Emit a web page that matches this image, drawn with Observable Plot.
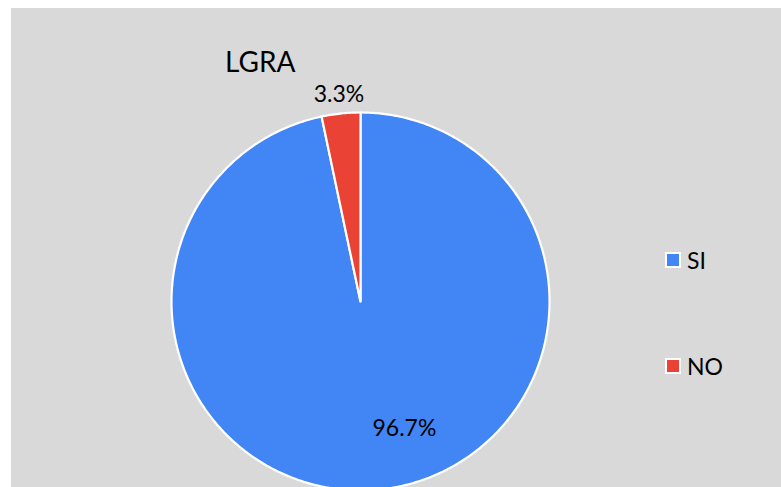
<!DOCTYPE html>
<html>
<head>
<meta charset="utf-8">
<script src="https://cdn.jsdelivr.net/npm/d3@7"></script>
<script src="https://cdn.jsdelivr.net/npm/@observablehq/plot@0.6"></script>
<style>
  html, body { margin: 0; padding: 0; background: #ffffff; }
  body { width: 781px; height: 487px; position: relative; overflow: hidden; font-family: Lato, "Open Sans", sans-serif; }
  #panel { position: absolute; left: 11px; top: 8px; width: 770px; height: 479px; background: #d9d9d9; overflow: hidden; }
  #title { position: absolute; left: 214px; top: 36px; font-size: 28px; color: #000; }
  .leg { position: absolute; left: 654px; font-size: 23px; color: #000; display: flex; align-items: center; }
  .sw { width: 12px; height: 12px; border: 2px solid #fff; margin-right: 6px; }
  #chart { position: absolute; left: 0; top: 0; }
</style>
</head>
<body>
<div id="panel">
  <div id="chart"></div>
  <div id="title"></div>
  <div id="legend"></div>
</div>
<script>
const categories = ["SI", "NO"];
const values = [96.7, 3.3];
const labels = ["96.7%", "3.3%"];
const colors = ["#4285f4", "#ea4335"];
const chartTitle = "LGRA";

const pie = d3.pie().sort(null).value(d => d)(values);

// slice outlines as polygons (center + arc), unit-radius coordinates
const pts = [];
pie.forEach((s, i) => {
  const n = Math.max(4, Math.ceil((s.endAngle - s.startAngle) / 0.01));
  pts.push({cat: categories[i], x: 0, y: 0});
  for (let k = 0; k <= n; k++) {
    const a = s.startAngle + (s.endAngle - s.startAngle) * k / n;
    pts.push({cat: categories[i], x: Math.sin(a), y: Math.cos(a)});
  }
  pts.push({cat: categories[i], x: 0, y: 0});
});

const labelData = pie.map((s, i) => {
  const mid = (s.startAngle + s.endAngle) / 2;
  const big = (s.endAngle - s.startAngle) > Math.PI;
  const a = big ? mid - 0.23 : mid;
  const r = big ? 0.71 : 1.1;
  return {text: labels[i], x: Math.sin(a) * r, y: Math.cos(a) * r};
});

const cx = 349, cy = 293, R = 189;
const chart = Plot.plot({
  width: 770,
  height: 479,
  margin: 0,
  style: {background: "transparent", overflow: "visible"},
  x: {domain: [-1, 1], range: [cx - R, cx + R], axis: null},
  y: {domain: [-1, 1], range: [cy + R, cy - R], axis: null},
  color: {domain: categories, range: colors},
  marks: [
    Plot.line(pts, {x: "x", y: "y", z: "cat", fill: "cat", stroke: "#ffffff", strokeWidth: 2.2, strokeLinejoin: "round", curve: "linear"}),
    Plot.text(labelData, {x: "x", y: "y", text: "text", fontSize: 23, fill: "#000", fontFamily: "Lato, 'Open Sans', sans-serif"})
  ]
});
document.getElementById("chart").appendChild(chart);
document.getElementById("title").textContent = chartTitle;

const legendTops = [238, 344];
const leg = document.getElementById("legend");
categories.forEach((c, i) => {
  const row = document.createElement("div");
  row.className = "leg";
  row.style.top = legendTops[i] + "px";
  const sw = document.createElement("div");
  sw.className = "sw";
  sw.style.background = colors[i];
  const t = document.createElement("span");
  t.textContent = c;
  row.appendChild(sw);
  row.appendChild(t);
  leg.appendChild(row);
});
</script>
</body>
</html>
